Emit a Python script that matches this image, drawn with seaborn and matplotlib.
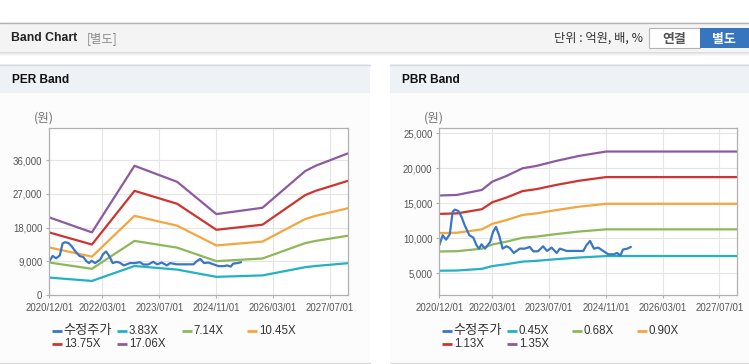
import matplotlib
matplotlib.use("Agg")
import matplotlib.pyplot as plt
import matplotlib.dates as mdates
from matplotlib.patches import Rectangle
from matplotlib.lines import Line2D
from matplotlib.ticker import FuncFormatter
import pandas as pd
import seaborn as sns

# ---------------- data ----------------
price_label = "수정주가"
price_dates = [
    "2020-12-01", "2020-12-30", "2021-01-28", "2021-03-01", "2021-03-25", "2021-04-13",
    "2021-05-13", "2021-06-10", "2021-07-07", "2021-08-16", "2021-09-19", "2021-10-16",
    "2021-11-07", "2021-11-28", "2021-12-28", "2022-02-10", "2022-03-07", "2022-04-01",
    "2022-04-28", "2022-05-28", "2022-07-01", "2022-07-28", "2022-09-01", "2022-10-22",
    "2022-12-04", "2023-01-16", "2023-02-15", "2023-03-28", "2023-05-10", "2023-06-13",
    "2023-07-22", "2023-09-04", "2023-10-01", "2023-11-28", "2024-04-19", "2024-05-16",
    "2024-06-16", "2024-07-19", "2024-08-25", "2024-10-07", "2024-11-19", "2025-01-07",
    "2025-02-01", "2025-03-04", "2025-03-25", "2025-05-01", "2025-06-01",
]
price_values = [
    9000, 10430, 9800, 10570, 13760, 14090,
    13900, 13040, 11850, 10430, 10090, 9000,
    8520, 9140, 8520, 9470, 10900, 11620,
    10430, 8520, 8860, 8620, 7900, 8520,
    8520, 8760, 8140, 8140, 8860, 8190,
    8670, 7900, 8520, 8190, 8190, 9000,
    9620, 8520, 8670, 8190, 7710, 7710,
    7900, 7570, 8380, 8520, 8760,
]

per_dates = ["2020-12-01", "2021-12-01", "2022-12-01", "2023-07-01", "2023-12-01",
             "2024-11-01", "2025-12-01", "2026-12-01", "2027-03-01", "2027-12-01"]
per_eps = [1214, 980, 2022, 1876, 1771, 1266, 1365, 1938, 2022, 2215]
per_multiples = [3.83, 7.14, 10.45, 13.75, 17.06]

pbr_dates = ["2020-12-01", "2021-05-01", "2021-12-01", "2022-03-01", "2022-07-01",
             "2022-11-15", "2023-03-15", "2023-09-01", "2024-03-15", "2024-11-01",
             "2027-12-01"]
pbr_bps = [11930, 11990, 12520, 13400, 14000, 14810, 15060, 15590, 16120, 16580, 16580]
pbr_multiples = [0.45, 0.68, 0.90, 1.13, 1.35]

x_tick_dates = ["2020-12-01", "2022-03-01", "2023-07-01", "2024-11-01", "2026-03-01", "2027-07-01"]
x_range = ["2020-12-01", "2027-12-01"]
per_yticks = [0, 9000, 18000, 27000, 36000]
per_ylim = [0, 44500]
pbr_yticks = [5000, 10000, 15000, 20000, 25000]
pbr_ylim = [1900, 25700]

price_color = "#3a76c6"
band_colors = ["#22b2c3", "#8eb857", "#f5a53e", "#cf3430", "#8d5aa1"]

# ---------------- style ----------------
sns.set_theme(style="white")
plt.rcParams["font.family"] = ["Liberation Sans", "Noto Sans CJK KR", "DejaVu Sans"]

W, H = 749, 364
fig = plt.figure(figsize=(W / 100, H / 100), dpi=100, facecolor="white")


def fx(x):
    return x / W


def fy(y):
    return 1 - y / H


def rect(x0, y0, x1, y1, color, z=0):
    fig.add_artist(Rectangle((fx(x0), fy(y1)), (x1 - x0) / W, (y1 - y0) / H,
                             transform=fig.transFigure, facecolor=color,
                             edgecolor="none", zorder=z))


def hline(x0, x1, y, color, lw=1.0, z=1):
    fig.add_artist(Line2D([fx(x0), fx(x1)], [fy(y), fy(y)], transform=fig.transFigure,
                          color=color, lw=lw, zorder=z))


KR = ["Noto Sans CJK KR", "Liberation Sans"]

# top header bar
rect(0, 22, W, 52, "#f4f4f4")
hline(0, W, 22.5, "#b3b3b3", 1.0)
for i, c in enumerate(["#dcdcdc", "#e8e8e8", "#f1f1f1", "#f8f8f8"]):
    rect(0, 52 + i, W, 53 + i, c)
fig.text(fx(11), fy(38), "Band Chart", fontsize=8.8, fontweight="bold", color="#222222",
         va="center", ha="left")
fig.text(fx(87), fy(38.5), "[별도]", fontsize=8.8, color="#8a8a8a", va="center", ha="left",
         family=KR)
fig.text(fx(643), fy(38.5), "단위 : 억원, 배, %", fontsize=8.8, color="#333333", va="center",
         ha="right", family=KR)
# buttons
fig.add_artist(Rectangle((fx(648.5), fy(48)), 51 / W, 20 / H, transform=fig.transFigure,
                         facecolor="white", edgecolor="#b5b5b5", lw=0.8, zorder=2))
fig.text(fx(674), fy(38.5), "연결", fontsize=9.3, fontweight="bold", color="#555555",
         va="center", ha="center", family=KR, zorder=3)
rect(700, 28, 749, 48, "#3576bf", z=2)
fig.text(fx(724), fy(38.5), "별도", fontsize=9.3, fontweight="bold", color="white",
         va="center", ha="center", family=KR, zorder=3)

# panels
panels = [(0, 370, "PER Band"), (390, 749, "PBR Band")]
for x0, x1, title in panels:
    rect(x0, 93, x1, 362, "#fcfcfc")
    rect(x0, 64, x1, 93, "#eef2f7")
    hline(x0, x1, 64.5, "#d6d9de", 1.0)
    hline(x0, x1, 362.5, "#d9d9d9", 1.0)
    fig.text(fx(x0 + 11.5), fy(80), title, fontsize=8.6, fontweight="bold", color="#111111",
             va="center", ha="left")


def make_df(band_dates, base, multiples):
    rows = []
    for m in multiples:
        lab = f"{m:.2f}X"
        for d, b in zip(band_dates, base):
            rows.append({"date": pd.Timestamp(d), "value": b * m, "series": lab})
    for d, v in zip(price_dates, price_values):
        rows.append({"date": pd.Timestamp(d), "value": v, "series": price_label})
    return pd.DataFrame(rows)


def draw(axrect, band_dates, base, multiples, yticks, ylim, legend_x0):
    left, right, top, bottom = axrect
    ax = fig.add_axes([fx(left), fy(bottom), (right - left) / W, (bottom - top) / H])
    ax.set_facecolor("white")
    labels = [f"{m:.2f}X" for m in multiples]
    df = make_df(band_dates, base, multiples)
    palette = dict(zip(labels, band_colors))
    palette[price_label] = price_color
    sns.lineplot(data=df, x="date", y="value", hue="series", hue_order=labels + [price_label],
                 palette=palette, estimator=None, sort=False, legend=False, linewidth=1.6,
                 ax=ax)
    ax.set_xlim(pd.Timestamp(x_range[0]), pd.Timestamp(x_range[1]))
    ax.set_ylim(*ylim)
    ax.set_xticks(pd.to_datetime(x_tick_dates))
    ax.xaxis.set_major_formatter(mdates.DateFormatter("%Y/%m/%d"))
    ax.set_yticks(yticks)
    ax.yaxis.set_major_formatter(FuncFormatter(lambda v, p: f"{v:,.0f}"))
    ax.set_xlabel("")
    ax.set_ylabel("")
    ax.grid(True, color="#e5e5e5", lw=0.8)
    ax.set_axisbelow(True)
    for s in ax.spines.values():
        s.set_color("#b0b0b0")
        s.set_linewidth(0.9)
    ax.tick_params(axis="both", which="major", labelsize=6.9, labelcolor="#555555",
                   color="#b0b0b0", length=2.5, width=0.8, pad=2.4, bottom=True, left=True)
    ax.tick_params(axis="x", pad=3.6)
    fig.text(fx(left - 15), fy(top - 10.5), "(원)", fontsize=9, color="#777777",
             va="center", ha="left", family=KR)
    # legend (row-major, fixed columns)
    names = [price_label] + labels
    colors = [price_color] + band_colors
    col_w = 65
    for i, (n, c) in enumerate(zip(names, colors)):
        r, k = divmod(i, 4)
        x = legend_x0 + k * col_w
        y = 330.5 + r * 13.5
        fig.add_artist(Line2D([fx(x), fx(x + 9.5)], [fy(y), fy(y)], transform=fig.transFigure,
                              color=c, lw=2.0, solid_capstyle="butt"))
        fs = 9.5 if n == price_label else 8.3
        fig.text(fx(x + 11.5), fy(y), n, fontsize=fs, color="#333333", va="center",
                 ha="left", family=KR if n == price_label else None)
    return ax


draw((49.3, 347.7, 128.3, 295), per_dates, per_eps, per_multiples, per_yticks, per_ylim, 52.3)
draw((439.3, 737.3, 128.3, 295), pbr_dates, pbr_bps, pbr_multiples, pbr_yticks, pbr_ylim, 442.3)

fig.savefig("out.png", dpi=100, facecolor="white")
